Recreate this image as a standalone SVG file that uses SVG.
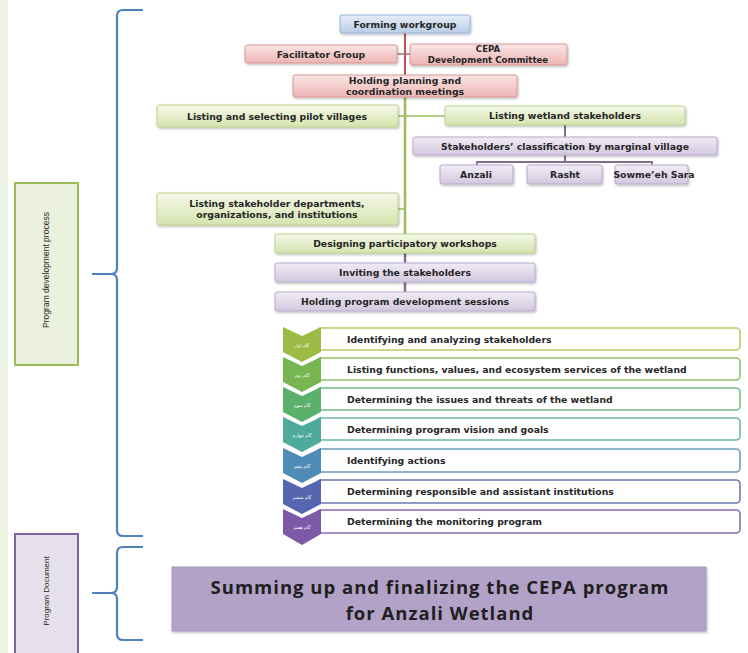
<svg xmlns="http://www.w3.org/2000/svg" width="748" height="653" viewBox="0 0 748 653">
<defs>
<linearGradient id="gGreen" x1="0" y1="0" x2="0" y2="1"><stop offset="0" stop-color="#f6f9ea"/><stop offset="1" stop-color="#d5e3ae"/></linearGradient>
<linearGradient id="gRed" x1="0" y1="0" x2="0" y2="1"><stop offset="0" stop-color="#fbe6e5"/><stop offset="1" stop-color="#ebb5b3"/></linearGradient>
<linearGradient id="gPurple" x1="0" y1="0" x2="0" y2="1"><stop offset="0" stop-color="#f1ecf5"/><stop offset="1" stop-color="#d3c8e0"/></linearGradient>
<linearGradient id="gBlue" x1="0" y1="0" x2="0" y2="1"><stop offset="0" stop-color="#e6eef8"/><stop offset="1" stop-color="#b9cde6"/></linearGradient>
<filter id="sh" x="-5%" y="-20%" width="110%" height="150%"><feDropShadow dx="1" dy="1.5" stdDeviation="1" flood-color="#000" flood-opacity="0.25"/></filter>
</defs>
<style>
.t{font-family:"DejaVu Sans","Liberation Sans",sans-serif;font-weight:bold;font-size:9.3px;fill:#262626;text-anchor:middle}
.s{font-family:"DejaVu Sans","Liberation Sans",sans-serif;font-weight:bold;font-size:9.3px;fill:#262626}
.fa{font-family:"DejaVu Sans","Noto Sans",sans-serif;font-size:4.5px;fill:#ffffff;text-anchor:middle}
.green{fill:url(#gGreen);stroke:#bcd08a;stroke-width:1;filter:url(#sh)}
.red{fill:url(#gRed);stroke:#d99694;stroke-width:1;filter:url(#sh)}
.purple{fill:url(#gPurple);stroke:#b8a9cc;stroke-width:1;filter:url(#sh)}
.blue{fill:url(#gBlue);stroke:#95b3d7;stroke-width:1;filter:url(#sh)}
.brace{fill:none;stroke:#4f81bd;stroke-width:2.2;stroke-linejoin:round}
.step{fill:#ffffff;stroke-width:1.6}
.lbl{font-family:"Liberation Sans",sans-serif;font-size:8.5px;fill:#262626;text-anchor:middle}
.big{font-family:"Open Sans","Liberation Sans",sans-serif;font-weight:bold;font-size:18.5px;letter-spacing:1px;fill:#1f1f1f;text-anchor:middle}
</style>
<rect x="0" y="0" width="748" height="653" fill="#ffffff"/>
<rect x="0" y="0" width="8" height="653" fill="#ecf3e2"/>

<g id="connectors">
<line x1="405" y1="33" x2="405" y2="76" stroke="#c0504d" stroke-width="2"/>
<line x1="397" y1="54" x2="410" y2="54" stroke="#a07070" stroke-width="1.5"/>
<line x1="405" y1="97" x2="405" y2="234" stroke="#9bbb59" stroke-width="2.5"/>
<line x1="398" y1="116" x2="445" y2="116" stroke="#9bbb59" stroke-width="1.5"/>
<line x1="398" y1="209" x2="405" y2="209" stroke="#9bbb59" stroke-width="1.5"/>
<line x1="565" y1="125" x2="565" y2="137" stroke="#7f6f93" stroke-width="2"/>
<polyline points="565,155 565,162" fill="none" stroke="#7f6f93" stroke-width="2"/>
<polyline points="477,166 477,162 652,162 652,166" fill="none" stroke="#7f6f93" stroke-width="1.8"/>
<line x1="405" y1="253" x2="405" y2="263" stroke="#7f6f93" stroke-width="2.5"/>
<line x1="405" y1="282" x2="405" y2="292" stroke="#7f6f93" stroke-width="2.5"/>
</g>

<g id="braces">
<path class="brace" d="M143,10 H123 Q117,10 117,16 V268 Q117,274 111,274 H92 M111,274 Q117,274 117,280 V530 Q117,536 123,536 H143"/>
<path class="brace" d="M143,547 H123 Q117,547 117,553 V587 Q117,593 111,593 H92 M111,593 Q117,593 117,599 V634 Q117,640 123,640 H143"/>
</g>

<g id="label-process">
<rect x="15" y="183" width="63" height="182" fill="#ebf1dd" stroke="#9bbb59" stroke-width="2"/>
<text class="lbl" transform="translate(49,270) rotate(-90)">Program development process</text>
</g>
<g id="label-document">
<rect x="15" y="534" width="63" height="125" fill="#e6e0ec" stroke="#8064a2" stroke-width="2"/>
<text class="lbl" transform="translate(49,591) rotate(-90)" style="font-size:8px">Program Document</text>
</g>

<g id="n-forming"><rect class="blue" x="340" y="15" width="130" height="18" rx="2"/><text class="t" x="405" y="27.5">Forming workgroup</text></g>
<g id="n-facilitator"><rect class="red" x="245" y="45" width="152" height="18" rx="2"/><text class="t" x="321" y="57.5">Facilitator Group</text></g>
<g id="n-cepa"><rect class="red" x="410" y="44" width="157" height="21" rx="2"/><text class="t" x="488" y="52" style="font-size:8.6px">CEPA</text><text class="t" x="488" y="62.5" style="font-size:8.6px">Development Committee</text></g>
<g id="n-holding-planning"><rect class="red" x="293" y="75" width="224" height="22" rx="2"/><text class="t" x="405" y="84">Holding planning and</text><text class="t" x="405" y="94.5">coordination meetings</text></g>
<g id="n-pilot"><rect class="green" x="157" y="105" width="241" height="22" rx="2"/><text class="t" x="277" y="119.5">Listing and selecting pilot villages</text></g>
<g id="n-wetland"><rect class="green" x="445" y="106" width="240" height="19" rx="2"/><text class="t" x="565" y="119">Listing wetland stakeholders</text></g>
<g id="n-classification"><rect class="purple" x="413" y="137" width="304" height="18" rx="2"/><text class="t" x="565" y="149.5">Stakeholders’ classification by marginal village</text></g>
<g id="n-anzali"><rect class="purple" x="440" y="165" width="73" height="19" rx="2"/><text class="t" x="476" y="178">Anzali</text></g>
<g id="n-rasht"><rect class="purple" x="527" y="165" width="75" height="19" rx="2"/><text class="t" x="565" y="178">Rasht</text></g>
<g id="n-sowmeeh"><rect class="purple" x="615" y="165" width="73" height="19" rx="2"/><text class="t" x="654" y="178">Sowme’eh Sara</text></g>
<g id="n-departments"><rect class="green" x="157" y="193" width="241" height="32" rx="2"/><text class="t" x="277" y="206.5">Listing stakeholder departments,</text><text class="t" x="277" y="217.5">organizations, and institutions</text></g>
<g id="n-designing"><rect class="green" x="275" y="234" width="260" height="19" rx="2"/><text class="t" x="405" y="247">Designing participatory workshops</text></g>
<g id="n-inviting"><rect class="purple" x="275" y="263" width="260" height="19" rx="2"/><text class="t" x="405" y="276">Inviting the stakeholders</text></g>
<g id="n-sessions"><rect class="purple" x="275" y="292" width="260" height="19" rx="2"/><text class="t" x="405" y="305">Holding program development sessions</text></g>

<g id="step1"><rect class="step" x="317" y="328" width="423" height="22" rx="4" stroke="#b5cc6a"/><path d="M283,327 L302,336 L321,327 V352 L302,362 L283,352 Z" fill="#9bbb45"/><text class="fa" x="302" y="347">گام اول</text><text class="s" x="347" y="342.5">Identifying and analyzing stakeholders</text></g>
<g id="step2"><rect class="step" x="317" y="358" width="423" height="22" rx="4" stroke="#8ec26a"/><path d="M283,357 L302,366 L321,357 V382 L302,392 L283,382 Z" fill="#76b550"/><text class="fa" x="302" y="377">گام دوم</text><text class="s" x="347" y="372.5">Listing functions, values, and ecosystem services of the wetland</text></g>
<g id="step3"><rect class="step" x="317" y="388" width="423" height="22" rx="4" stroke="#74bc86"/><path d="M283,387 L302,396 L321,387 V412 L302,422 L283,412 Z" fill="#5bb06c"/><text class="fa" x="302" y="407">گام سوم</text><text class="s" x="347" y="402.5">Determining the issues and threats of the wetland</text></g>
<g id="step4"><rect class="step" x="317" y="418" width="423" height="22" rx="4" stroke="#6cb7ac"/><path d="M283,417 L302,426 L321,417 V442 L302,452 L283,442 Z" fill="#4eab9c"/><text class="fa" x="302" y="437">گام چهارم</text><text class="s" x="347" y="432.5">Determining program vision and goals</text></g>
<g id="step5"><rect class="step" x="317" y="449" width="423" height="23" rx="4" stroke="#6b9fc0"/><path d="M283,448 L302,457 L321,448 V473 L302,483 L283,473 Z" fill="#4f8cb5"/><text class="fa" x="302" y="468">گام پنجم</text><text class="s" x="347" y="464">Identifying actions</text></g>
<g id="step6"><rect class="step" x="317" y="480" width="423" height="23" rx="4" stroke="#6e78b8"/><path d="M283,479 L302,488 L321,479 V504 L302,514 L283,504 Z" fill="#5565b0"/><text class="fa" x="302" y="499">گام ششم</text><text class="s" x="347" y="494.5">Determining responsible and assistant institutions</text></g>
<g id="step7"><rect class="step" x="317" y="510" width="423" height="23" rx="4" stroke="#8a6cb0"/><path d="M283,509 L302,518 L321,509 V534 L302,545 L283,534 Z" fill="#7d5aa8"/><text class="fa" x="302" y="529">گام هفتم</text><text class="s" x="347" y="525">Determining the monitoring program</text></g>

<g id="n-summing"><rect x="172" y="567" width="534" height="64" fill="#b3a2c7" stroke="#a795bd" stroke-width="1" filter="url(#sh)"/><text class="big" x="440" y="594">Summing up and finalizing the CEPA program</text><text class="big" x="440" y="620">for Anzali Wetland</text></g>
</svg>
